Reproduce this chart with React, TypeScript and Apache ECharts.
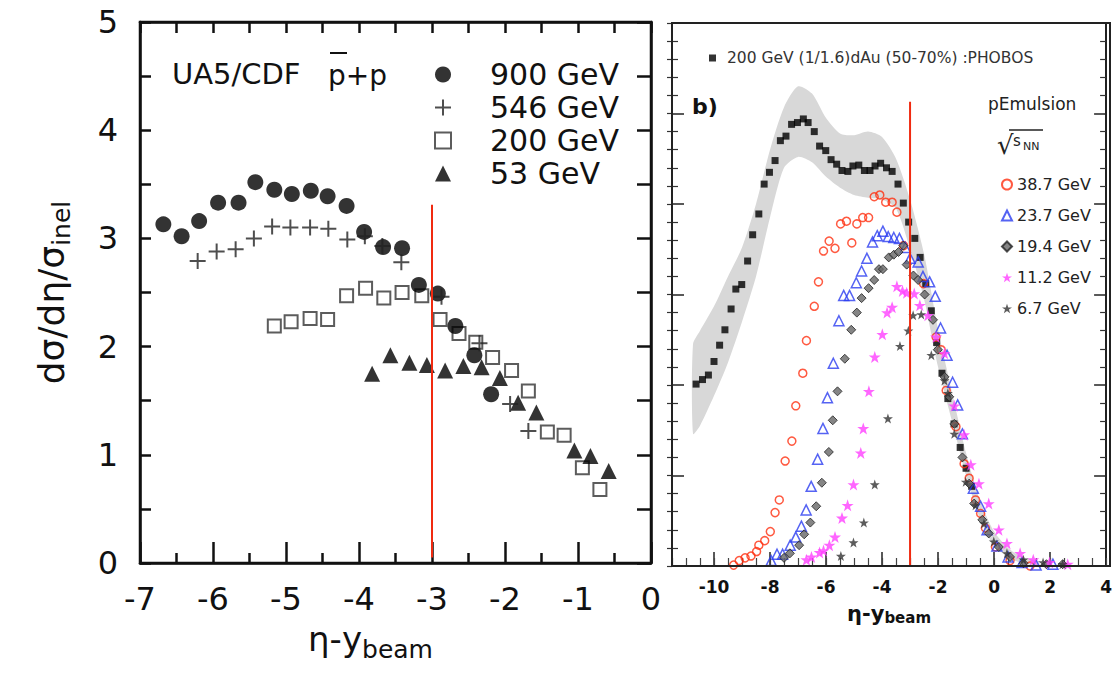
import React, { useEffect, useRef } from "react";
import * as echarts from "echarts";

// ---------- Left panel: UA5/CDF pbar+p, d(sigma)/d(eta)/sigma_inel vs eta - y_beam ----------
const ua5_900: number[][] = [
  [-6.68, 3.13], [-6.43, 3.02], [-6.19, 3.16], [-5.93, 3.33], [-5.65, 3.33], [-5.42, 3.52],
  [-5.16, 3.45], [-4.92, 3.41], [-4.66, 3.44], [-4.43, 3.39], [-4.17, 3.3], [-3.93, 3.06],
  [-3.67, 2.92], [-3.41, 2.91], [-3.18, 2.57], [-2.92, 2.49], [-2.68, 2.19], [-2.42, 1.92],
  [-2.19, 1.56],
];
const ua5_546: number[][] = [
  [-6.21, 2.79], [-5.95, 2.88], [-5.69, 2.9], [-5.44, 3.0], [-5.19, 3.11], [-4.94, 3.1],
  [-4.67, 3.1], [-4.42, 3.09], [-4.16, 2.99], [-3.92, 3.02], [-3.68, 2.93], [-3.42, 2.78],
  [-2.87, 2.46], [-2.35, 2.03], [-1.93, 1.47], [-1.68, 1.22],
];
const ua5_200: number[][] = [
  [-5.16, 2.19], [-4.93, 2.23], [-4.67, 2.26], [-4.43, 2.25], [-4.17, 2.47], [-3.91, 2.54],
  [-3.66, 2.45], [-3.41, 2.5], [-3.14, 2.47], [-2.89, 2.25], [-2.63, 2.12], [-2.4, 2.04],
  [-2.17, 1.9], [-1.91, 1.78], [-1.68, 1.59], [-1.42, 1.21], [-1.19, 1.18], [-0.94, 0.88],
  [-0.7, 0.68],
];
const isr_53: number[][] = [
  [-3.82, 1.75], [-3.57, 1.92], [-3.31, 1.85], [-3.07, 1.83], [-2.82, 1.78], [-2.57, 1.82],
  [-2.32, 1.81], [-2.07, 1.71], [-1.82, 1.48], [-1.57, 1.39], [-1.05, 1.04], [-0.83, 0.99],
  [-0.58, 0.85],
];
const leftRedLine: number[][] = [[-3, 0.05], [-3, 3.31]];
const leftLegend = ["900 GeV", "546 GeV", "200 GeV", "53 GeV"];

// ---------- Right panel: PHOBOS dAu band + pEmulsion ----------
const phobosName = "200 GeV (1/1.6)dAu (50-70%) :PHOBOS";
const phobos: number[][] = [
  [-10.64, 2.01], [-10.41, 2.06], [-10.2, 2.11], [-10.0, 2.26], [-9.8, 2.44], [-9.61, 2.61],
  [-9.39, 2.84], [-9.22, 3.06], [-9.01, 3.11], [-8.8, 3.37], [-8.62, 3.66], [-8.4, 3.89],
  [-8.21, 4.22], [-8.02, 4.35], [-7.82, 4.48], [-7.63, 4.7], [-7.43, 4.75], [-7.23, 4.88],
  [-7.02, 4.9], [-6.81, 4.94], [-6.64, 4.9], [-6.42, 4.8], [-6.23, 4.64], [-6.01, 4.59],
  [-5.82, 4.49], [-5.62, 4.44], [-5.43, 4.37], [-5.22, 4.36], [-5.04, 4.42], [-4.83, 4.43],
  [-4.63, 4.37], [-4.43, 4.37], [-4.25, 4.42], [-4.05, 4.45], [-3.84, 4.4], [-3.64, 4.36],
  [-3.43, 4.22], [-3.24, 4.01], [-3.05, 3.8], [-2.83, 3.62], [-2.64, 3.41], [-2.44, 3.12],
  [-2.24, 2.82], [-2.05, 2.47], [-1.86, 2.13], [-1.65, 1.85], [-1.43, 1.57], [-1.21, 1.31],
  [-1.0, 1.08], [-0.8, 0.88],
];
const bandX = [-10.75, -10.5, -10, -9.5, -9, -8.5, -8, -7.5, -7, -6.5, -6, -5.5, -5, -4.5, -4, -3.5, -3, -2.5, -2, -1.5, -1, -0.5, 0, 0.5, 1, 1.6];
const bandUpper = [2.45, 2.6, 2.87, 3.2, 3.52, 4.0, 4.6, 5.07, 5.3, 5.22, 4.95, 4.78, 4.76, 4.8, 4.74, 4.5, 4.05, 3.45, 2.62, 1.92, 1.25, 0.72, 0.38, 0.2, 0.1, 0.05];
const bandLower = [1.46, 1.55, 1.88, 2.25, 2.7, 3.2, 3.85, 4.4, 4.52, 4.46, 4.3, 4.18, 4.1, 4.07, 4.05, 3.95, 3.5, 2.95, 2.2, 1.6, 1.0, 0.52, 0.22, 0.1, 0.03, 0.01];

const em387: number[][] = [
  [-9.3, 0.01], [-9.1, 0.06], [-8.89, 0.09], [-8.68, 0.11], [-8.48, 0.16], [-8.4, 0.23],
  [-8.19, 0.28], [-7.99, 0.38], [-7.82, 0.59], [-7.67, 0.73], [-7.46, 1.16], [-7.22, 1.38],
  [-7.08, 1.77], [-6.83, 2.13], [-6.7, 2.49], [-6.42, 2.87], [-6.27, 3.14], [-6.09, 3.48],
  [-5.89, 3.59], [-5.68, 3.51], [-5.48, 3.78], [-5.27, 3.81], [-5.08, 3.57], [-4.9, 3.78],
  [-4.69, 3.85], [-4.48, 3.85], [-4.28, 4.08], [-4.08, 4.1], [-3.87, 4.02], [-3.64, 4.02],
  [-3.47, 3.91], [-3.23, 3.54], [-2.52, 3.12], [-2.07, 2.53], [-1.89, 2.39], [-1.71, 1.94],
  [-1.36, 1.54], [-1.07, 1.13], [-0.89, 0.97], [-0.66, 0.73], [-0.48, 0.58], [-0.31, 0.42],
  [0.05, 0.21], [0.57, 0.06], [1.28, 0.0],
];
const em237: number[][] = [
  [-7.96, 0.06], [-7.75, 0.13], [-7.55, 0.13], [-7.28, 0.23], [-7.08, 0.32], [-6.88, 0.44],
  [-6.71, 0.62], [-6.53, 0.88], [-6.3, 1.18], [-6.11, 1.52], [-5.95, 1.86], [-5.74, 2.24],
  [-5.54, 2.71], [-5.37, 2.99], [-5.16, 2.99], [-4.92, 3.13], [-4.73, 3.26], [-4.54, 3.4],
  [-4.34, 3.58], [-4.17, 3.65], [-3.97, 3.7], [-3.78, 3.64], [-3.58, 3.63], [-3.38, 3.62],
  [-3.17, 3.52], [-3.0, 3.4], [-2.71, 3.36], [-2.54, 3.2], [-2.3, 3.14], [-2.1, 2.98],
  [-1.91, 2.63], [-1.68, 2.33], [-1.48, 2.03], [-1.3, 1.78], [-1.13, 1.46], [-0.74, 0.86],
  [-0.48, 0.66], [-0.25, 0.4], [0.1, 0.22], [0.5, 0.1], [1.0, 0.04], [1.5, 0.01], [2.1, 0.02],
];
const em194: number[][] = [
  [-7.5, 0.09], [-7.29, 0.14], [-6.96, 0.23], [-6.78, 0.35], [-6.56, 0.48], [-6.35, 0.66],
  [-6.15, 0.92], [-5.9, 1.26], [-5.76, 1.61], [-5.59, 1.93], [-5.33, 2.29], [-5.1, 2.61],
  [-4.9, 2.8], [-4.73, 2.96], [-4.48, 3.07], [-4.28, 3.16], [-4.11, 3.28], [-3.97, 3.28],
  [-3.76, 3.41], [-3.58, 3.44], [-3.41, 3.47], [-3.24, 3.54], [-3.12, 3.33], [-2.88, 3.21],
  [-2.71, 3.16], [-2.48, 3.0], [-2.18, 2.72], [-2.01, 2.39], [-1.77, 2.09], [-1.6, 1.87],
  [-1.42, 1.57], [-1.13, 1.2], [-0.89, 0.91], [-0.71, 0.69], [-0.42, 0.51], [-0.19, 0.36],
  [0.17, 0.21], [0.57, 0.1], [1.05, 0.03], [1.87, 0.02], [2.45, 0.02],
];
const em112: number[][] = [
  [-6.7, 0.07], [-6.52, 0.1], [-6.23, 0.15], [-6.09, 0.17], [-5.88, 0.23], [-5.68, 0.32],
  [-5.43, 0.53], [-5.23, 0.67], [-5.02, 0.9], [-4.76, 1.25], [-4.67, 1.52], [-4.47, 1.93],
  [-4.26, 2.31], [-3.99, 2.56], [-3.82, 2.8], [-3.64, 2.86], [-3.47, 3.09], [-3.27, 3.04],
  [-3.12, 3.02], [-2.85, 3.01], [-2.65, 2.88], [-2.36, 2.77], [-2.07, 2.53], [-1.77, 2.35],
  [-1.42, 1.77], [-1.07, 1.45], [-0.83, 1.12], [-0.54, 0.91], [-0.19, 0.69], [0.17, 0.4],
  [0.46, 0.25], [0.93, 0.14], [1.4, 0.07], [1.98, 0.04], [2.63, 0.02],
];
const em67: number[][] = [
  [-5.47, 0.11], [-5.02, 0.26], [-4.65, 0.48], [-4.26, 0.9], [-3.79, 1.63], [-3.36, 2.43],
  [-3.06, 2.6], [-2.89, 2.77], [-2.6, 2.78], [-2.24, 2.33], [-1.77, 2.05], [-1.65, 1.91],
  [-1.42, 1.46], [-1.01, 0.93], [-0.66, 0.67], [-0.36, 0.47], [-0.01, 0.27], [0.46, 0.14],
  [1.05, 0.07], [1.75, 0.04], [2.45, 0.02],
];
const rightRedLine: number[][] = [[-3, 0], [-3, 5.13]];
const emulsionLegend = ["38.7 GeV", "23.7 GeV", "19.4 GeV", "11.2 GeV", "6.7 GeV"];
const rightXLabels = [-10, -8, -6, -4, -2, 0, 2, 4];

const FONT = "DejaVu Sans";
const PLUS = "path://M7,0H9V7H16V9H9V16H7V9H0V7H7Z";
const STAR = "path://M50,2L61.8,36.2L97.6,36.2L68.8,57.4L79.4,91.6L50,70.8L20.6,91.6L31.2,57.4L2.4,36.2L38.2,36.2Z";

const LEFT_GRID = { left: 140, top: 22, width: 511, height: 541 };
const RIGHT_GRID = { left: 672, top: 23, width: 438, height: 543 };

export default function App() {
  const ref = useRef<HTMLDivElement>(null);
  useEffect(() => {
    if (!ref.current) return;
    const chart = echarts.init(ref.current, null, { renderer: "svg" });
    const L = { color: "#111", width: 2.5 };
    const R = { color: "#222", width: 2 };
    const lineL = { show: true, onZero: false, lineStyle: { color: "#111", width: 2.5 } };
    const lineR = { show: true, onZero: false, lineStyle: { color: "#222", width: 2 } };
    const option: any = {
      animation: false,
      backgroundColor: "#fff",
      textStyle: { fontFamily: FONT },
      grid: [LEFT_GRID, RIGHT_GRID],
      xAxis: [
        {
          gridIndex: 0, type: "value", min: -7, max: 0, interval: 1, position: "bottom",
          axisLine: lineL,
          axisTick: { show: true, inside: true, length: 21, lineStyle: L },
          minorTick: { show: true, splitNumber: 2, length: 10, lineStyle: L },
          splitLine: { show: false },
          axisLabel: { fontSize: 32, color: "#111", margin: 20, fontFamily: FONT },
          name: "{a|η-y}{b|beam}", nameLocation: "middle", nameGap: 52,
          nameTextStyle: {
            padding: [0, 50, 0, 0],
            rich: {
              a: { fontSize: 34, color: "#111", fontFamily: FONT },
              b: { fontSize: 25, color: "#111", fontFamily: FONT, padding: [22, 0, 0, 0] },
            },
          },
        },
        {
          gridIndex: 0, type: "value", min: -7, max: 0, interval: 1, position: "top",
          axisLine: lineL,
          axisTick: { show: true, inside: true, length: 11, lineStyle: L },
          minorTick: { show: true, splitNumber: 2, length: 11, lineStyle: L },
          splitLine: { show: false }, axisLabel: { show: false },
        },
        {
          gridIndex: 1, type: "value", min: -11.5, max: 4, position: "bottom",
          axisLine: lineR,
          axisTick: { show: true, inside: true, length: 14, customValues: rightXLabels, lineStyle: { color: "#222", width: 1.5 } },
          splitLine: { show: false },
          axisLabel: { customValues: rightXLabels, fontSize: 17, fontWeight: "bold", color: "#111", margin: 12, fontFamily: FONT },
          name: "{a|η-y}{b|beam}", nameLocation: "middle", nameGap: 36,
          nameTextStyle: {
            rich: {
              a: { fontSize: 21, fontWeight: "bold", color: "#111", fontFamily: FONT },
              b: { fontSize: 15, fontWeight: "bold", color: "#111", fontFamily: FONT, padding: [8, 0, 0, 0] },
            },
          },
        },
        {
          gridIndex: 1, type: "value", min: -11.5, max: 4, interval: 0.5, position: "bottom",
          axisLine: { show: false, onZero: false },
          axisTick: { show: true, inside: true, length: 8, lineStyle: { color: "#444", width: 1.2 } },
          splitLine: { show: false }, axisLabel: { show: false },
        },
        {
          gridIndex: 1, type: "value", min: -11.5, max: 4, position: "top",
          axisLine: lineR, axisTick: { show: false },
          splitLine: { show: false }, axisLabel: { show: false },
        },
      ],
      yAxis: [
        {
          gridIndex: 0, type: "value", min: 0, max: 5, interval: 1, position: "left",
          axisLine: lineL,
          axisTick: { show: true, inside: true, length: 11, lineStyle: L },
          minorTick: { show: true, splitNumber: 2, length: 11, lineStyle: L },
          splitLine: { show: false },
          axisLabel: { fontSize: 32, color: "#111", margin: 22, fontFamily: FONT },
          name: "{a|dσ/dη/σ}{b|inel}", nameLocation: "middle", nameGap: 66, nameRotate: 90,
          nameTextStyle: {
            rich: {
              a: { fontSize: 36, color: "#111", fontFamily: FONT },
              b: { fontSize: 25, color: "#111", fontFamily: FONT, padding: [20, 0, 0, 0] },
            },
          },
        },
        {
          gridIndex: 0, type: "value", min: 0, max: 5, interval: 1, position: "right",
          axisLine: lineL,
          axisTick: { show: true, inside: true, length: 14, lineStyle: L },
          minorTick: { show: true, splitNumber: 2, length: 14, lineStyle: L },
          splitLine: { show: false }, axisLabel: { show: false },
        },
        {
          gridIndex: 1, type: "value", min: 0, max: 6, interval: 1, position: "left",
          axisLine: lineR,
          axisTick: { show: true, inside: true, length: 12, lineStyle: { color: "#222", width: 1.5 } },
          minorTick: { show: true, splitNumber: 5, length: 6, lineStyle: { color: "#333", width: 1.2 } },
          splitLine: { show: false }, axisLabel: { show: false },
        },
        {
          gridIndex: 1, type: "value", min: 0, max: 6, interval: 1, position: "left",
          axisLine: { show: false, onZero: false },
          axisTick: { show: true, inside: false, length: 5, lineStyle: { color: "#333", width: 1.2 } },
          minorTick: { show: true, splitNumber: 5, length: 5, lineStyle: { color: "#333", width: 1.2 } },
          splitLine: { show: false }, axisLabel: { show: false },
        },
        {
          gridIndex: 1, type: "value", min: 0, max: 6, interval: 1, position: "right",
          axisLine: lineR,
          axisTick: { show: true, inside: true, length: 12, lineStyle: { color: "#222", width: 1.5 } },
          minorTick: { show: true, splitNumber: 5, length: 6, lineStyle: { color: "#333", width: 1.2 } },
          splitLine: { show: false }, axisLabel: { show: false },
        },
      ],
      legend: [
        {
          data: leftLegend, orient: "vertical", left: 429, top: 53, itemWidth: 16, itemHeight: 16,
          itemGap: 0, selectedMode: false,
          textStyle: { fontSize: 30, lineHeight: 33, color: "#111", fontFamily: FONT, padding: [0, 0, 0, 34] },
        },
        {
          data: [phobosName], orient: "vertical", left: 704, top: 44, itemWidth: 7, itemHeight: 7,
          selectedMode: false,
          textStyle: { fontSize: 15.5, lineHeight: 18, color: "#333", fontFamily: FONT, padding: [0, 0, 0, 6] },
        },
        {
          data: emulsionLegend, orient: "vertical", left: 996, top: 164, itemWidth: 10, itemHeight: 10,
          itemGap: 0, selectedMode: false,
          textStyle: { fontSize: 16, lineHeight: 31, color: "#222", fontFamily: FONT },
        },
      ],
      graphic: [
        {
          type: "rect", z: 50, silent: true,
          shape: { x: LEFT_GRID.left, y: LEFT_GRID.top, width: LEFT_GRID.width, height: LEFT_GRID.height },
          style: { fill: "none", stroke: "#111", lineWidth: 2.5 },
        },
        {
          type: "rect", z: 50, silent: true,
          shape: { x: RIGHT_GRID.left, y: RIGHT_GRID.top, width: RIGHT_GRID.width, height: RIGHT_GRID.height },
          style: { fill: "none", stroke: "#222", lineWidth: 2 },
        },
        { type: "text", x: 172, y: 74, style: { text: "UA5/CDF", fontSize: 29, fontFamily: FONT, fill: "#111", verticalAlign: "middle" } },
        { type: "text", x: 328, y: 75, style: { text: "p+p", fontSize: 28, fontFamily: FONT, fill: "#111", verticalAlign: "middle" } },
        { type: "line", shape: { x1: 330, y1: 53, x2: 347, y2: 53 }, style: { stroke: "#111", lineWidth: 2 } },
        { type: "text", x: 692, y: 106, style: { text: "b)", fontSize: 22, fontWeight: "bold", fontFamily: FONT, fill: "#111", verticalAlign: "middle" } },
        { type: "text", x: 988, y: 104, style: { text: "pEmulsion", fontSize: 17, fontFamily: FONT, fill: "#222", verticalAlign: "middle" } },
        { type: "text", x: 997, y: 145, style: { text: "√", fontSize: 26, fontFamily: FONT, fill: "#222", verticalAlign: "middle" } },
        { type: "text", x: 1013, y: 141, style: { text: "s", fontSize: 15, fontFamily: FONT, fill: "#222", verticalAlign: "middle" } },
        { type: "text", x: 1023, y: 146, style: { text: "NN", fontSize: 11, fontFamily: FONT, fill: "#222", verticalAlign: "middle" } },
        { type: "line", shape: { x1: 1009, y1: 130, x2: 1043, y2: 130 }, style: { stroke: "#222", lineWidth: 1.5 } },
      ],
      series: [
        // left panel
        {
          name: "200 GeV", type: "scatter", xAxisIndex: 0, yAxisIndex: 0, data: ua5_200,
          symbol: "rect", symbolSize: 13, itemStyle: { color: "#fff", borderColor: "#333", borderWidth: 2 },
        },
        {
          name: "53 GeV", type: "scatter", xAxisIndex: 0, yAxisIndex: 0, data: isr_53,
          symbol: "triangle", symbolSize: 16, itemStyle: { color: "#000" },
        },
        {
          name: "900 GeV", type: "scatter", xAxisIndex: 0, yAxisIndex: 0, data: ua5_900,
          symbol: "circle", symbolSize: 16, itemStyle: { color: "#000" },
        },
        {
          name: "546 GeV", type: "scatter", xAxisIndex: 0, yAxisIndex: 0, data: ua5_546,
          symbol: PLUS, symbolSize: 16, itemStyle: { color: "#222" },
        },
        {
          name: "red-left", type: "line", xAxisIndex: 0, yAxisIndex: 0, data: leftRedLine,
          symbol: "none", lineStyle: { color: "#f02a10", width: 2 }, z: 10, silent: true,
        },
        // right panel
        {
          name: "band", type: "custom", xAxisIndex: 2, yAxisIndex: 2, data: [[0, 0]], silent: true, z: 1, clip: true,
          renderItem: (params: any, api: any) => {
            const pts: number[][] = [];
            for (let i = 0; i < bandX.length; i++) pts.push(api.coord([bandX[i], bandUpper[i]]));
            for (let i = bandX.length - 1; i >= 0; i--) pts.push(api.coord([bandX[i], bandLower[i]]));
            return { type: "polygon", shape: { points: pts, smooth: 0.25 }, style: { fill: "#d8d8d8" } };
          },
        },
        {
          name: phobosName, type: "scatter", xAxisIndex: 2, yAxisIndex: 2, data: phobos,
          symbol: "rect", symbolSize: 7, itemStyle: { color: "#000" },
        },
        {
          name: "38.7 GeV", type: "scatter", xAxisIndex: 2, yAxisIndex: 2, data: em387,
          symbol: "circle", symbolSize: 8, itemStyle: { color: "rgba(255,255,255,0)", borderColor: "#ff3010", borderWidth: 1.5 },
        },
        {
          name: "23.7 GeV", type: "scatter", xAxisIndex: 2, yAxisIndex: 2, data: em237,
          symbol: "triangle", symbolSize: 10, itemStyle: { color: "rgba(255,255,255,0)", borderColor: "#2a3cf0", borderWidth: 1.5 },
        },
        {
          name: "19.4 GeV", type: "scatter", xAxisIndex: 2, yAxisIndex: 2, data: em194,
          symbol: "diamond", symbolSize: 9, itemStyle: { color: "#666", borderColor: "#222", borderWidth: 1 },
        },
        {
          name: "11.2 GeV", type: "scatter", xAxisIndex: 2, yAxisIndex: 2, data: em112,
          symbol: STAR, symbolSize: 12, itemStyle: { color: "#ff40ff" },
        },
        {
          name: "6.7 GeV", type: "scatter", xAxisIndex: 2, yAxisIndex: 2, data: em67,
          symbol: STAR, symbolSize: 10, itemStyle: { color: "#333" },
        },
        {
          name: "red-right", type: "line", xAxisIndex: 2, yAxisIndex: 2, data: rightRedLine,
          symbol: "none", lineStyle: { color: "#f02a10", width: 2 }, z: 10, silent: true,
        },
      ],
    };
    chart.setOption(option);
    return () => chart.dispose();
  }, []);
  return (
    <div
      ref={ref}
      style={{ position: "fixed", left: 0, top: 0, width: 1115, height: 674, background: "#fff" }}
    />
  );
}
